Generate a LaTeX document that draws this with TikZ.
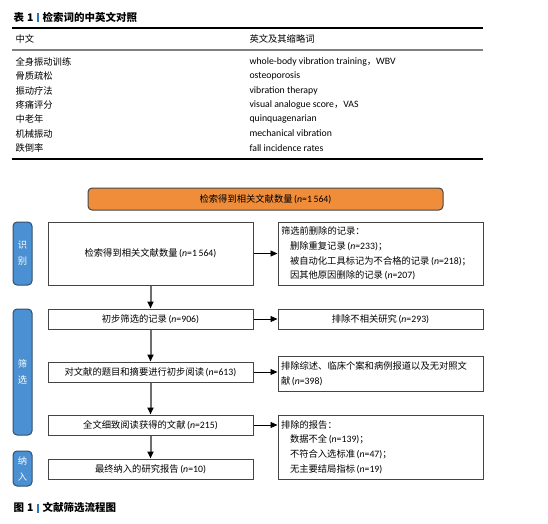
\documentclass[tikz,border=0pt]{standalone}
\usepackage{fontspec}
\setmainfont{Noto Sans CJK SC}
\newfontfamily\latin{Carlito}[Scale=1.05]
\usetikzlibrary{positioning,arrows.meta,calc}
\definecolor{forange}{HTML}{F08D3A}
\definecolor{fblue}{HTML}{4A90D2}
\definecolor{fbluedark}{HTML}{34506E}
\definecolor{fbar}{HTML}{2E75B6}
\definecolor{fgray}{HTML}{6E6E6E}
\definecolor{fframe}{HTML}{454545}
\newcommand{\en}[1]{{\latin #1}}
\newcommand{\cnt}[1]{\,{\latin(\textit{n}=#1)}}
\newcommand{\ind}{\hspace*{9pt}}
\newcommand{\sep}{\hspace{4pt}{\color{fbar}\rule[-1pt]{1.2pt}{9pt}}\hspace{4pt}}
\tikzset{
  body/.style={font=\fontsize{9.3}{11}\selectfont},
  headline/.style={font=\fontsize{10.5}{12}\selectfont\bfseries, anchor=west},
  stagebox/.style={body, draw=fframe, line width=1pt, fill=white, minimum width=205pt, inner sep=0pt},
  notebox/.style={stagebox, text width=199pt, inner xsep=3pt, align=left},
  tabbox/.style={draw=fbluedark, line width=1pt, fill=fblue, rounded corners=4pt, minimum width=19pt,
    inner sep=0pt, text=white, align=center, font=\fontsize{9.3}{16}\selectfont},
  flow/.style={fgray, line width=2pt, -{Triangle[length=7pt,width=6pt,color=black]}},
  drop/.style={black, line width=0.9pt, -{Triangle[length=7pt,width=6pt]}}
}
\begin{document}
\begin{tikzpicture}[x=1pt,y=-1pt]
 \useasboundingbox (0,0) rectangle (548,523);
 % table
 \node[headline] (tabtitle) at (10,17) {表\hspace{3pt}1\sep 检索词的中英文对照};
 \draw[line width=1.3pt] (12,28) -- (483,28);
 \draw[line width=1.3pt, black!50] (12,50) -- (483,50);
 \draw[line width=1.3pt] (12,159) -- (483,159);
 \node[body, anchor=west] (colzh) at (12,38.5) {中文};
 \node[body, anchor=west] (colen) at (246,38.5) {英文及其缩略词};
 \foreach \zh/\enword [count=\i] in {
   全身振动训练/{\en{whole-body vibration training}，\en{WBV}},
   骨质疏松/{\en{osteoporosis}},
   振动疗法/{\en{vibration therapy}},
   疼痛评分/{\en{visual analogue score}，\en{VAS}},
   中老年/{\en{quinquagenarian}},
   机械振动/{\en{mechanical vibration}},
   跌倒率/{\en{fall incidence rates}}} {
   \node[body, anchor=west] (zh\i) at (12,47.5+14.35*\i) {\zh};
   \node[body, anchor=west] (en\i) at (246,47.5+14.35*\i) {\enword};
 }
 % flow chart
 \node[stagebox, fill=forange, rounded corners=4pt, minimum width=355pt, minimum height=22pt] (found) at (265.5,199) {检索得到相关文献数量\cnt{1\,564}};
 \node[tabbox, minimum height=63pt] (idtab) at (22.5,253.5) {识\\别};
 \node[tabbox, minimum height=126pt] (screentab) at (22.5,372) {筛\\选};
 \node[tabbox, minimum height=35pt] (incltab) at (22.5,468.5) {纳\\入};
 \node[stagebox, minimum height=63pt] (search) at (150.5,253.5) {检索得到相关文献数量\cnt{1\,564}};
 \node[stagebox, minimum height=20pt] (first) at (150.5,319) {初步筛选的记录\cnt{906}};
 \node[stagebox, minimum height=20pt] (abstract) at (150.5,372) {对文献的题目和摘要进行初步阅读\cnt{613}};
 \node[stagebox, minimum height=20pt] (fulltext) at (150.5,425) {全文细致阅读获得的文献\cnt{215}};
 \node[stagebox, minimum height=20pt] (included) at (150.5,469) {最终纳入的研究报告\cnt{10}};
 \node[notebox, minimum height=63pt, font=\fontsize{9.3}{14.6}\selectfont] (removed) at (380.5,253.5)
   {筛选前删除的记录：\\ \ind 删除重复记录\cnt{233}；\\ \ind 被自动化工具标记为不合格的记录\cnt{218}；\\ \ind 因其他原因删除的记录\cnt{207}};
 \node[stagebox, minimum height=20pt] (unrelated) at (380.5,319) {排除不相关研究\cnt{293}};
 \node[notebox, minimum height=35pt, font=\fontsize{9.3}{15.5}\selectfont] (reviews) at (380.5,373.5)
   {排除综述、临床个案和病例报道以及无对照文\\献\cnt{398}};
 \node[notebox, minimum height=64pt, font=\fontsize{9.3}{14.6}\selectfont] (reports) at (380.5,447)
   {排除的报告：\\ \ind 数据不全\cnt{139}；\\ \ind 不符合入选标准\cnt{47}；\\ \ind 无主要结局指标\cnt{19}};
 \draw[flow] (search) -- (first);
 \draw[flow] (first) -- (abstract);
 \draw[flow] (abstract) -- (fulltext);
 \draw[flow] (fulltext) -- (included);
 \draw[drop] (search) -- (removed);
 \draw[drop] (first) -- (unrelated);
 \draw[drop] (abstract.east) -- (abstract.east -| reviews.west);
 \draw[drop] (fulltext.east) -- (fulltext.east -| reports.west);
 % caption
 \node[headline] (figcap) at (10,508) {图\hspace{3pt}1\sep 文献筛选流程图};
\end{tikzpicture}
\end{document}
